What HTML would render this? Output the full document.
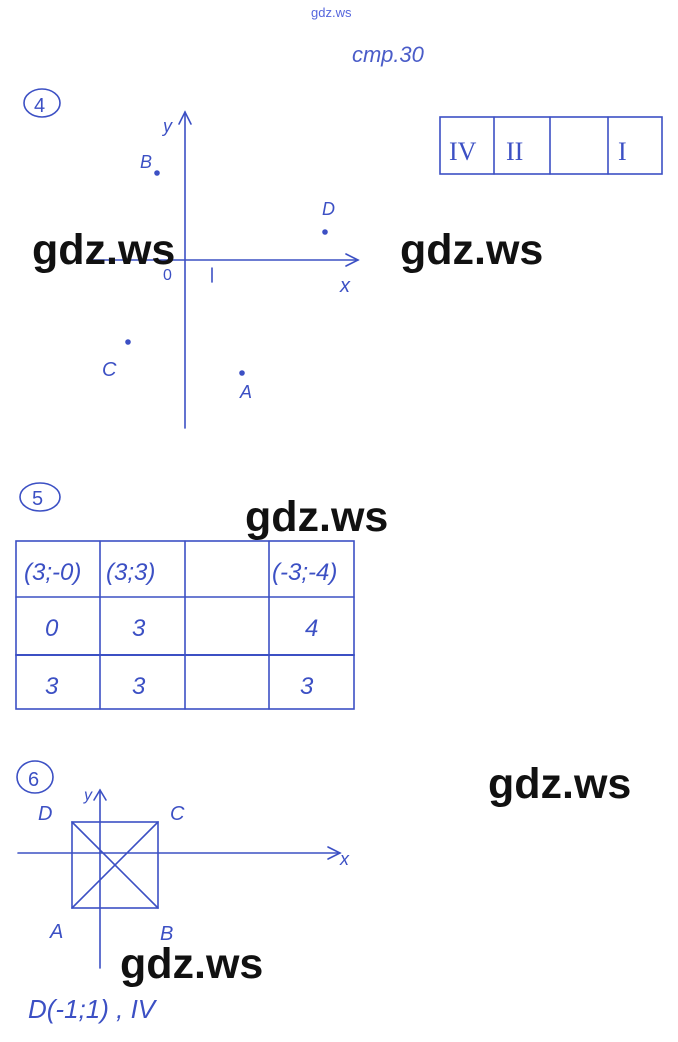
<!DOCTYPE html>
<html><head><meta charset="utf-8"><style>
html,body{margin:0;padding:0;background:#fff;}
.w{position:absolute;font-family:"Liberation Sans",sans-serif;font-weight:bold;font-size:43px;color:#111;line-height:1;}
</style></head><body>
<div style="position:relative;width:678px;height:1042px;overflow:hidden;">
<svg width="678" height="1042" viewBox="0 0 678 1042" style="position:absolute;left:0;top:0" fill="none" stroke="#3c50c4" stroke-width="1.6" stroke-linecap="round" font-family="Liberation Sans, sans-serif">
<text x="311" y="17" font-size="13" fill="#5566dd" stroke="none">gdz.ws</text>
<text x="352" y="62" font-size="22" font-style="italic" fill="#4a5cc8" stroke="none">стр.30</text>
<ellipse cx="42" cy="103" rx="18" ry="14"/><text x="34" y="112" font-size="20" fill="#3c50c4" stroke="none">4</text>
<line x1="185" y1="112" x2="185" y2="428"/><path d="M179 124 L185 112 L191 124"/>
<text x="163" y="132" font-size="18" font-style="italic" fill="#3c50c4" stroke="none">y</text>
<line x1="90" y1="260" x2="358" y2="260"/><path d="M346 254 L358 260 L346 266"/>
<text x="340" y="292" font-size="20" font-style="italic" fill="#3c50c4" stroke="none">x</text>
<text x="163" y="280" font-size="16" fill="#3c50c4" stroke="none">0</text>
<line x1="212" y1="268" x2="212" y2="282"/>
<text x="140" y="168" font-size="18" font-style="italic" fill="#3c50c4" stroke="none">B</text><circle cx="157" cy="173" r="2" fill="#3c50c4"/>
<text x="322" y="215" font-size="18" font-style="italic" fill="#3c50c4" stroke="none">D</text><circle cx="325" cy="232" r="2" fill="#3c50c4"/>
<text x="102" y="376" font-size="20" font-style="italic" fill="#3c50c4" stroke="none">C</text><circle cx="128" cy="342" r="2" fill="#3c50c4"/>
<text x="240" y="398" font-size="18" font-style="italic" fill="#3c50c4" stroke="none">A</text><circle cx="242" cy="373" r="2" fill="#3c50c4"/>
<rect x="440" y="117" width="222" height="57"/>
<line x1="494" y1="117" x2="494" y2="174"/><line x1="550" y1="117" x2="550" y2="174"/><line x1="608" y1="117" x2="608" y2="174"/>
<text x="449" y="160" font-size="26" fill="#3c50c4" stroke="none" font-family="Liberation Serif">IV</text>
<text x="506" y="160" font-size="26" fill="#3c50c4" stroke="none" font-family="Liberation Serif">II</text>
<text x="618" y="160" font-size="26" fill="#3c50c4" stroke="none" font-family="Liberation Serif">I</text>
<ellipse cx="40" cy="497" rx="20" ry="14"/><text x="32" y="505" font-size="20" fill="#3c50c4" stroke="none">5</text>
<rect x="16" y="541" width="338" height="168"/>
<line x1="16" y1="597" x2="354" y2="597"/><line x1="16" y1="655" x2="354" y2="655" stroke-width="2"/>
<line x1="100" y1="541" x2="100" y2="709"/><line x1="185" y1="541" x2="185" y2="709"/><line x1="269" y1="541" x2="269" y2="709"/>
<g fill="#3c50c4" stroke="none" font-size="24" font-style="italic">
<text x="24" y="580">(3;-0)</text><text x="106" y="580">(3;3)</text><text x="272" y="580">(-3;-4)</text>
<text x="45" y="636">0</text><text x="132" y="636">3</text><text x="305" y="636">4</text>
<text x="45" y="694">3</text><text x="132" y="694">3</text><text x="300" y="694">3</text>
</g>
<ellipse cx="35" cy="777" rx="18" ry="16"/><text x="28" y="786" font-size="20" fill="#3c50c4" stroke="none">6</text>
<line x1="100" y1="790" x2="100" y2="968"/><path d="M94 800 L100 790 L106 800"/>
<text x="84" y="800" font-size="16" font-style="italic" fill="#3c50c4" stroke="none">y</text>
<line x1="18" y1="853" x2="340" y2="853"/><path d="M328 847 L340 853 L328 859"/>
<text x="340" y="865" font-size="18" font-style="italic" fill="#3c50c4" stroke="none">x</text>
<rect x="72" y="822" width="86" height="86"/>
<line x1="72" y1="822" x2="158" y2="908"/><line x1="158" y1="822" x2="72" y2="908"/>
<g fill="#3c50c4" stroke="none" font-size="20" font-style="italic">
<text x="38" y="820">D</text><text x="170" y="820">C</text><text x="50" y="938">A</text><text x="160" y="940">B</text>
<text x="28" y="1018" font-size="26">D(-1;1) , IV</text>
</g>
</svg>
<div class="w" style="left:32px;top:229px">gdz.ws</div>
<div class="w" style="left:400px;top:229px">gdz.ws</div>
<div class="w" style="left:245px;top:496px">gdz.ws</div>
<div class="w" style="left:488px;top:763px">gdz.ws</div>
<div class="w" style="left:120px;top:943px">gdz.ws</div>
</div>
</body></html>
